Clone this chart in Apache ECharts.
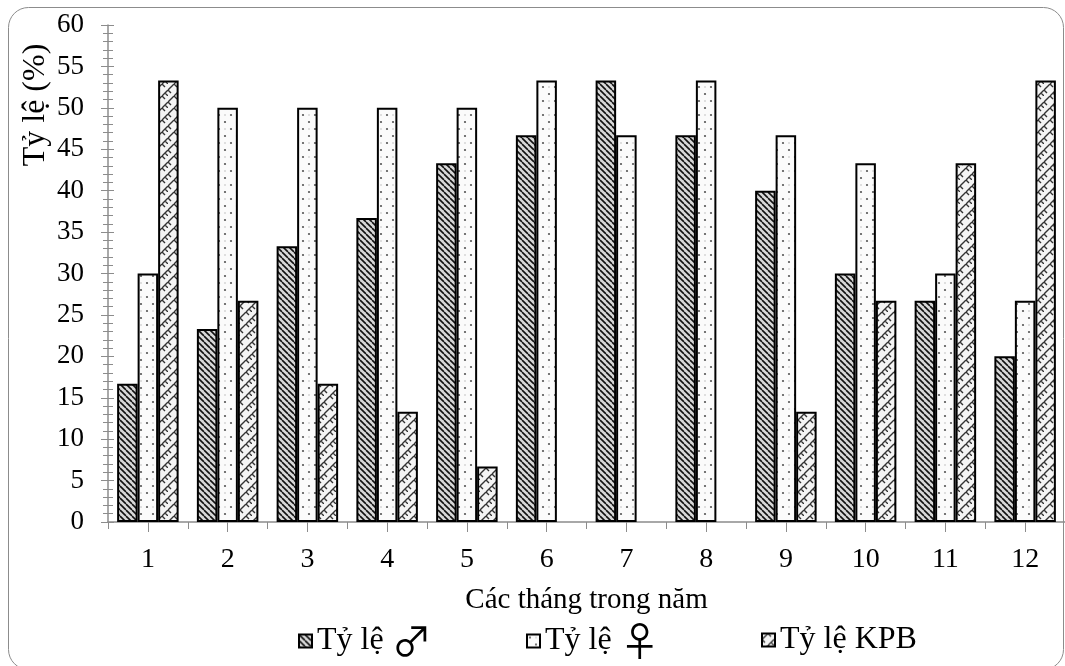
<!DOCTYPE html>
<html>
<head>
<meta charset="utf-8">
<script src="https://cdn.jsdelivr.net/npm/echarts@6/dist/echarts.min.js"></script>
<style>
  html, body { margin: 0; padding: 0; background: #fff; }
  #chart { width: 1065px; height: 666px; }
</style>
</head>
<body>
<div id="chart"></div>
<script>
// Months of the year
const months = ['1', '2', '3', '4', '5', '6', '7', '8', '9', '10', '11', '12'];
// Percentages per month
const maleRate   = [16.7, 23.3, 33.3, 36.7, 43.3, 46.7, 53.3, 46.7, 40.0, 30.0, 26.7, 20.0];
const femaleRate = [30.0, 50.0, 50.0, 50.0, 50.0, 53.3, 46.7, 53.3, 46.7, 43.3, 30.0, 26.7];
const kpbRate    = [53.3, 26.7, 16.7, 13.3, 6.7, 0, 0, 0, 13.3, 26.7, 43.3, 53.3];
const seriesNames = ['Tỷ lệ ♂', 'Tỷ lệ ♀', 'Tỷ lệ KPB'];

const FONT = '"Liberation Serif", "Times New Roman", "DejaVu Serif", serif';

// Hatched fill: dark "\" stripes over a light grey wash
function stripePattern() {
  const c = document.createElement('canvas');
  c.width = 6; c.height = 6;
  const g = c.getContext('2d');
  g.fillStyle = '#d8d8d8';
  g.fillRect(0, 0, 6, 6);
  g.strokeStyle = '#111';
  g.lineWidth = 1.6;
  for (let k = -6; k <= 12; k += 6) {
    g.beginPath();
    g.moveTo(k, 0);
    g.lineTo(k + 6, 6);
    g.stroke();
  }
  return c;
}

// Sparse grey dots on white
function dotPattern() {
  const c = document.createElement('canvas');
  c.width = 12; c.height = 14;
  const g = c.getContext('2d');
  g.fillStyle = '#fbfbfb';
  g.fillRect(0, 0, 12, 14);
  g.fillStyle = '#555';
  g.beginPath(); g.arc(3, 3, 1.1, 0, Math.PI * 2); g.fill();
  g.beginPath(); g.arc(9, 10, 1.1, 0, Math.PI * 2); g.fill();
  g.fillStyle = '#bbb';
  g.beginPath(); g.arc(9, 3, 0.8, 0, Math.PI * 2); g.fill();
  return c;
}

// Woven lattice
function weavePattern() {
  const c = document.createElement('canvas');
  c.width = 12; c.height = 12;
  const g = c.getContext('2d');
  g.fillStyle = '#f4f4f4';
  g.fillRect(0, 0, 12, 12);
  g.strokeStyle = '#333';
  g.lineWidth = 1.4;
  g.beginPath();
  g.moveTo(0, 6); g.lineTo(6, 0);
  g.moveTo(6, 12); g.lineTo(12, 6);
  g.moveTo(6, 0); g.lineTo(9, 3);
  g.moveTo(0, 6); g.lineTo(3, 9);
  g.moveTo(9, 9); g.lineTo(12, 12);
  g.moveTo(3, -3); g.lineTo(6, 0);
  g.stroke();
  return c;
}

const fills = [
  { image: stripePattern(), repeat: 'repeat' },
  { image: dotPattern(), repeat: 'repeat' },
  { image: weavePattern(), repeat: 'repeat' }
];
const values = [maleRate, femaleRate, kpbRate];
const legendLeft = [298, 526, 761];
const legendTop = [621, 621, 624];

// Zero-height bars get no outline
function barData(arr) {
  return arr.map(v => v === 0 ? { value: v, itemStyle: { borderWidth: 0 } } : v);
}

// Gender signs are set in a thin face, large enough to match the capitals
function legendLabel(name) {
  return name.replace(/([♂♀])/g, '{s|$1}').replace(/^([^{]+)/, '{t|$1}');
}

const chart = echarts.init(document.getElementById('chart'), null, { renderer: 'canvas' });

const grid = { left: 108, top: 25, width: 965, height: 497 };

chart.setOption({
  animation: false,
  backgroundColor: '#fff',
  textStyle: { fontFamily: FONT },
  graphic: [
    {
      type: 'rect',
      shape: { x: 8.5, y: 7.5, width: 1055, height: 662, r: 20 },
      style: { fill: 'none', stroke: '#8c8c8c', lineWidth: 1 },
      z: -1
    },
    {
      type: 'text',
      x: 36, y: 105,
      rotation: Math.PI / 2,
      style: {
        text: 'Tỷ lệ (%)',
        font: '32px ' + FONT,
        fill: '#000',
        align: 'center',
        verticalAlign: 'middle'
      }
    }
  ],
  legend: seriesNames.map((name, i) => ({
    left: legendLeft[i],
    top: legendTop[i],
    padding: 0,
    itemWidth: 13,
    itemHeight: 13,
    itemGap: 0,
    icon: 'rect',
    formatter: legendLabel,
    textStyle: {
      fontFamily: FONT, fontSize: 32, color: '#000', lineHeight: 32,
      rich: {
        t: { fontFamily: FONT, fontSize: 32, color: '#000', lineHeight: 32, verticalAlign: 'middle' },
        s: { fontFamily: '"Noto Sans CJK JP", "Noto Sans CJK SC", sans-serif', fontSize: 40, color: '#000', lineHeight: 32, verticalAlign: 'middle' }
      }
    },
    data: [name]
  })),
  grid: grid,
  xAxis: [
    {
      type: 'category',
      data: months,
      name: 'Các tháng trong năm',
      nameLocation: 'middle',
      nameGap: 64,
      nameTextStyle: { fontFamily: FONT, fontSize: 29, color: '#000' },
      axisLine: { lineStyle: { color: '#8c8c8c', width: 1.5 } },
      axisTick: { show: true, length: 7, lineStyle: { color: '#8c8c8c' } },
      axisLabel: { fontFamily: FONT, fontSize: 28, color: '#000', margin: 24 },
      splitLine: { show: false }
    },
    {
      type: 'category',
      data: months,
      position: 'bottom',
      axisLine: { show: false },
      axisTick: { show: true, alignWithLabel: true, length: 10, lineStyle: { color: '#8c8c8c' } },
      axisLabel: { show: false },
      splitLine: { show: false }
    }
  ],
  yAxis: [
    {
      type: 'value',
      min: 0,
      max: 60,
      interval: 5,
      axisLine: { show: true, lineStyle: { color: '#8c8c8c', width: 1.5 } },
      axisTick: { show: true, length: 7, lineStyle: { color: '#8c8c8c' } },
      minorTick: { show: true, splitNumber: 5, length: 5, lineStyle: { color: '#8c8c8c' } },
      axisLabel: { fontFamily: FONT, fontSize: 27, color: '#000', margin: 24 },
      splitLine: { show: false }
    },
    {
      type: 'value',
      min: 0,
      max: 60,
      interval: 5,
      position: 'left',
      axisLine: { show: false },
      axisTick: { show: true, inside: true, length: 6, lineStyle: { color: '#8c8c8c' } },
      minorTick: { show: true, splitNumber: 5, length: 5, lineStyle: { color: '#8c8c8c' } },
      axisLabel: { show: false },
      splitLine: { show: false }
    }
  ],
  series: seriesNames.map((name, i) => ({
    name: name,
    type: 'bar',
    xAxisIndex: 0,
    yAxisIndex: 0,
    data: barData(values[i]),
    barWidth: 20.5,
    barGap: '0%',
    itemStyle: {
      color: fills[i],
      borderColor: '#000',
      borderWidth: 2
    }
  }))
});
</script>
</body>
</html>
